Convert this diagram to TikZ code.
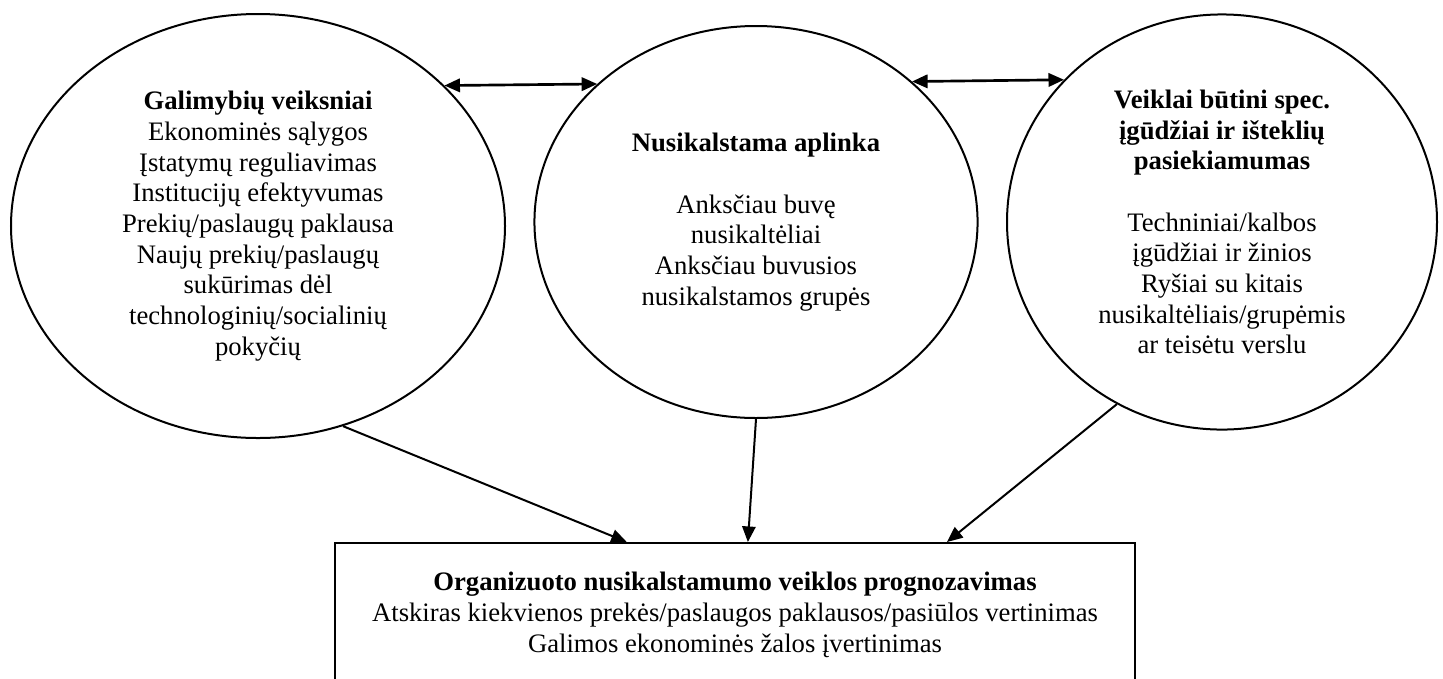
\documentclass[tikz,border=0pt]{standalone}
\usepackage{fontspec}
\setmainfont{Liberation Serif}
\usetikzlibrary{
  arrows.meta,
  shapes.geometric
}
\tikzset{
  factor/.style={
    ellipse,
    draw,
    line width=0.9pt,
    inner sep=2pt,
    align=center,
    font=\fontsize{12}{13.8}\selectfont
  }
}
\tikzset{
  forecast/.style={
    rectangle,
    draw,
    line width=0.9pt,
    minimum width=360pt,
    minimum height=64.8pt,
    align=center,
    font=\fontsize{12}{13.8}\selectfont
  }
}

\begin{document}
\begin{tikzpicture}[x=0.45pt, y=-0.45pt, line width=0.9pt,
    >={Triangle[length=7pt,width=6pt]}]
    \useasboundingbox (0,0) rectangle (1443,678);

    \node[factor, minimum width=222.3pt, minimum height=190.8pt] (gal) at (258,226)
      {\textbf{Galimybių veiksniai}\\
       Ekonominės sąlygos\\
       Įstatymų reguliavimas\\
       Institucijų efektyvumas\\
       Prekių/paslaugų paklausa\\
       Naujų prekių/paslaugų\\
       sukūrimas dėl\\
       technologinių/socialinių\\
       pokyčių};
    \node[factor, minimum width=199.4pt, minimum height=176.4pt] (nus) at (756,222)
      {\textbf{Nusikalstama aplinka}\\[13.8pt]
       Anksčiau buvę\\
       nusikaltėliai\\
       Anksčiau buvusios\\
       nusikalstamos grupės};
    \node[factor, minimum width=193.5pt, minimum height=186.8pt] (vei) at (1222,222)
      {\textbf{Veiklai būtini spec.}\\
       \textbf{įgūdžiai ir išteklių}\\
       \textbf{pasiekiamumas}\\[13.8pt]
       Techniniai/kalbos\\
       įgūdžiai ir žinios\\
       Ryšiai su kitais\\
       nusikaltėliais/grupėmis\\
       ar teisėtu verslu};
    \node[forecast] (fc) at (735,615)
      {\textbf{Organizuoto nusikalstamumo veiklos prognozavimas}\\
       Atskiras kiekvienos prekės/paslaugos paklausos/pasiūlos vertinimas\\
       Galimos ekonominės žalos įvertinimas};

    \draw[<->, line width=1.2pt] (gal.37.4) -- (nus.139.1);
    \draw[<->, line width=1.2pt] (nus.42.5) -- (vei.138.3);

    \draw[->] (gal.-67) -- (fc.146.8);
    \draw[->] (nus.south) -- (fc.80.5);
    \draw[->] (vei.-120) -- (fc.19.5);
\end{tikzpicture}
\end{document}
